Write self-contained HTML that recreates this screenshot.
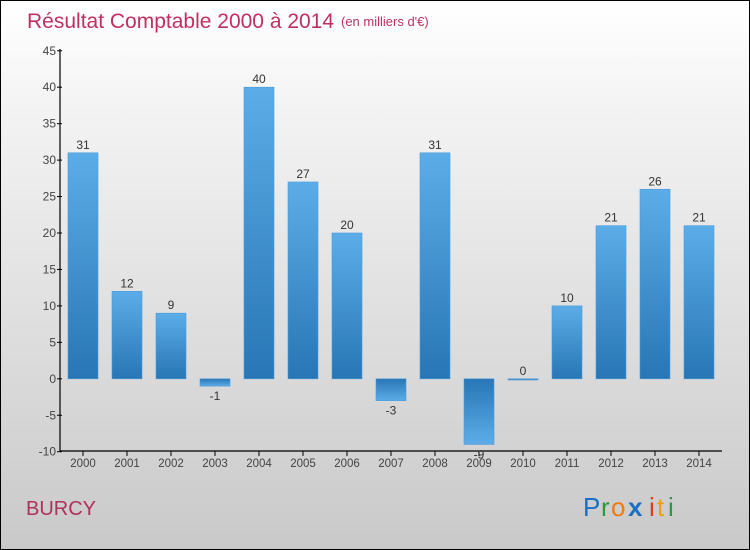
<!DOCTYPE html>
<html><head><meta charset="utf-8"><style>
body{margin:0;}
#wrap{position:relative;width:750px;height:550px;box-sizing:border-box;border:1px solid #000;background:linear-gradient(#ffffff,#f3f3f3 20%,#c9c9c9);font-family:"Liberation Sans",sans-serif;overflow:hidden}
</style></head><body>
<div id="wrap">
<svg id="svg" width="748" height="548" style="position:absolute;left:0;top:0">
<defs>
<linearGradient id="gp" x1="0" y1="0" x2="0" y2="1"><stop offset="0" stop-color="#5cadE7"/><stop offset="1" stop-color="#2876b5"/></linearGradient>
<linearGradient id="gn" x1="0" y1="0" x2="0" y2="1"><stop offset="0" stop-color="#2876b5"/><stop offset="1" stop-color="#5cadE7"/></linearGradient>
</defs>
<text x="26" y="27" font-size="21" fill="#c0305e">Résultat Comptable 2000 à 2014</text>
<text x="340" y="25" font-size="13" fill="#c0305e">(en milliers d'€)</text>
<text x="25" y="514" font-size="20" fill="#b0305e">BURCY</text>
<g font-size="26">
<text x="582" y="515" fill="#1a6fc4">P</text><text x="600" y="515" fill="#2a9a3a">r</text><text x="610" y="515" fill="#f07a10">o</text><text x="627" y="515" fill="#1a6fc4" font-weight="bold">x</text><text x="648" y="515" fill="#e03a1a">i</text><text x="656" y="515" fill="#f0a010">t</text><text x="667" y="515" fill="#2a9a3a">i</text>
</g>
<g id="plot"></g>
</svg>
</div>
<script>
const categories=["2000","2001","2002","2003","2004","2005","2006","2007","2008","2009","2010","2011","2012","2013","2014"];
const values=[31,12,9,-1,40,27,20,-3,31,-9,0,10,21,26,21];
const yTicks=[-10,-5,0,5,10,15,20,25,30,35,40,45];
const NS="http://www.w3.org/2000/svg";
const g=document.getElementById('plot');
const y=v=>377.8-v*7.29;
const x=i=>82+i*44;
function el(t,a){const e=document.createElementNS(NS,t);for(const k in a)e.setAttribute(k,a[k]);g.appendChild(e);return e;}
let ax=el('line',{x1:59,y1:48,x2:59,y2:450,stroke:'#000','stroke-width':1.2});


let bx=el('line',{x1:59,y1:450,x2:721,y2:450,stroke:'#000','stroke-width':1.2});


yTicks.forEach(t=>{
 el('line',{x1:56,x2:61,y1:y(t),y2:y(t),stroke:'#000'});
 const tx=el('text',{x:55,y:y(t)+4,'font-size':12,fill:'#444','text-anchor':'end'});tx.textContent=t;
 
 
});
categories.forEach((c,i)=>{
 const v=values[i];
 el('line',{x1:x(i),x2:x(i),y1:450,y2:455,stroke:'#000'});
 const tx=el('text',{x:x(i),y:466,'font-size':11.5,fill:'#444','text-anchor':'middle'});tx.textContent=c;
 
 
 const top=Math.min(y(v),y(0)),h=Math.max(Math.abs(y(v)-y(0)),1.2);
 const r=el('rect',{x:x(i)-15,y:top,width:30,height:h,fill:v>=0?'url(#gp)':'url(#gn)',stroke:'#4a9ad8','stroke-width':0.6});
 
 
 const lt=el('text',{x:x(i),y:v>=0?y(v)-4:y(v)+14,'font-size':12,fill:'#333','text-anchor':'middle'});lt.textContent=v;
 
 
});
</script>
</body></html>
